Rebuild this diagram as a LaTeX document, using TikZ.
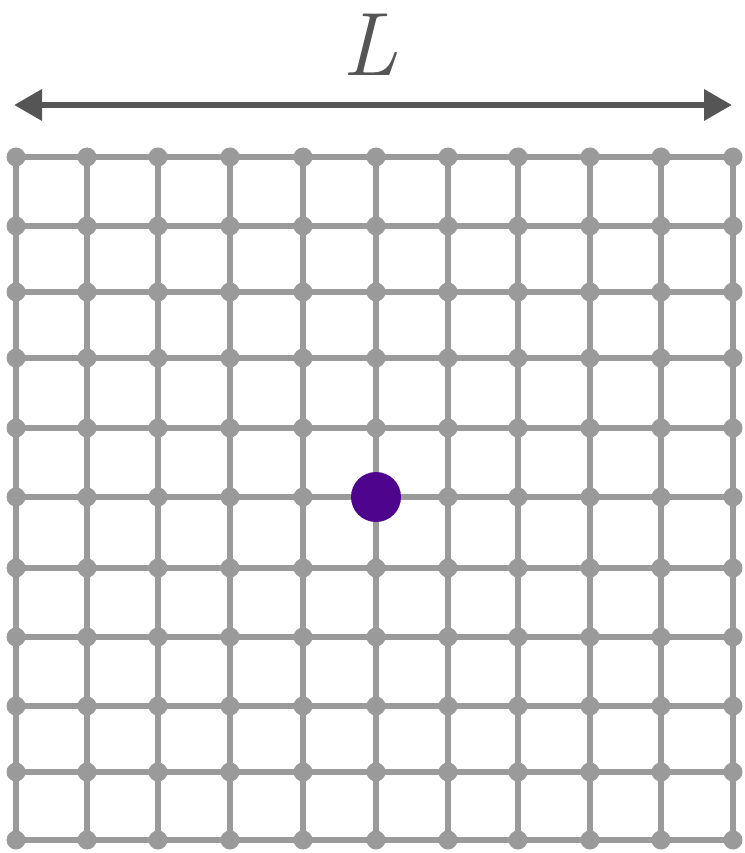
\documentclass[tikz,border=0pt]{standalone}
\usetikzlibrary{arrows.meta}
\definecolor{gridgray}{HTML}{9A9A9A}
\definecolor{arrowgray}{HTML}{555555}
\definecolor{dotpurple}{HTML}{4E048C}
\begin{document}
\begin{tikzpicture}[x=1pt,y=-1pt,
  site/.style={circle,fill=gridgray,inner sep=0pt,minimum size=19pt},
  bond/.style={draw=gridgray,line width=6.5pt},
  walker/.style={circle,fill=dotpurple,inner sep=0pt,minimum size=50pt},
  dim/.style={draw=arrowgray,line width=6.5pt,{Triangle[length=28pt,width=30pt]}-{Triangle[length=28pt,width=30pt]}}]
\useasboundingbox (0,0) rectangle (744,853);
\def\xs{{16,87,158,230,303,376,448,518,590,661,733}}
\def\ys{{157,226,292,358,428,497,568,637,706,772,840}}
\foreach \i in {0,...,10}{
  \foreach \j in {0,...,10}{
    \pgfmathsetmacro\xx{\xs[\i]}
    \pgfmathsetmacro\yy{\ys[\j]}
    \coordinate (n-\i-\j) at (\xx,\yy);
  }
}
\foreach \i in {0,...,10}{
  \foreach \j [count=\k] in {0,...,9}{
    \draw[bond] (n-\i-\j) -- (n-\i-\k);
    \draw[bond] (n-\j-\i) -- (n-\k-\i);
  }
}
\foreach \i in {0,...,10}{
  \foreach \j in {0,...,10}{
    \node[site] (s-\i-\j) at (n-\i-\j) {};
  }
}
\node[walker] (w) at (n-5-5) {};
\coordinate (aL) at (14,105);
\coordinate (aR) at (732,105);
\draw[dim] (aL) -- (aR);
\node[text=arrowgray,font=\fontsize{90}{90}\selectfont\itshape,inner sep=0pt,anchor=base] (lab) at (370,76) {L};
\end{tikzpicture}
\end{document}
